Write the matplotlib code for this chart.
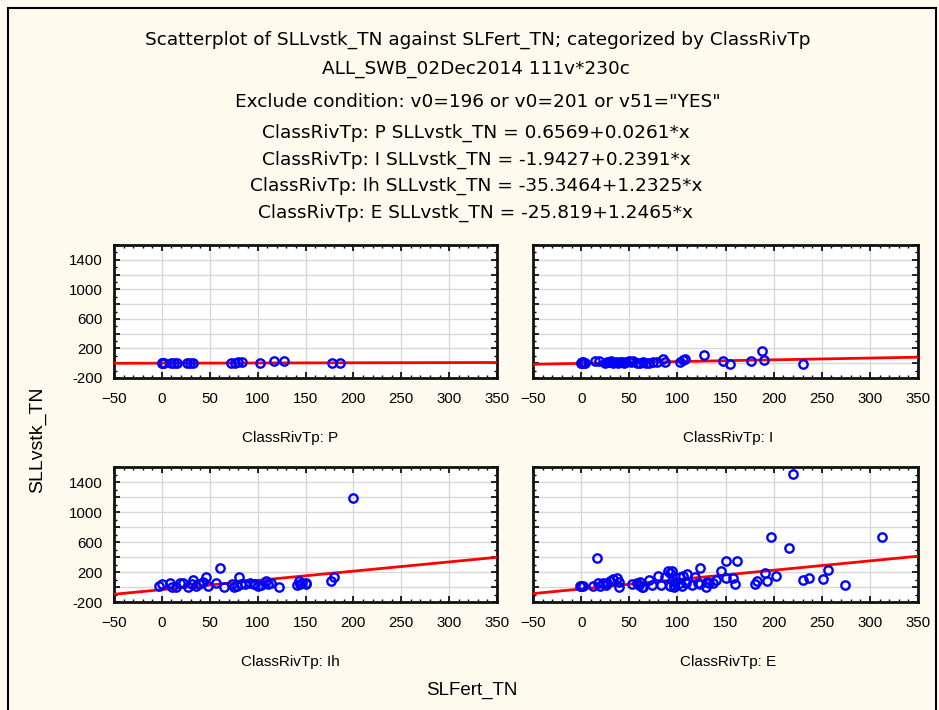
import matplotlib
matplotlib.use("Agg")
import matplotlib.pyplot as plt
import numpy as np
from matplotlib.ticker import MultipleLocator, FuncFormatter

# ---------------- data ----------------
categories = ["P", "I", "Ih", "E"]
intercepts = [0.6569, -1.9427, -35.3464, -25.819]
slopes = [0.0261, 0.2391, 1.2325, 1.2465]
eq_texts = ["0.6569+0.0261*x", "-1.9427+0.2391*x", "-35.3464+1.2325*x", "-25.819+1.2465*x"]

p_x = [0, 0, 1, 2, 10, 13, 16, 26, 29, 32, 72, 76, 80, 84, 103, 117, 128, 178, 186]
p_y = [0, 5, 0, 3, 0, 2, 0, 0, 3, 0, 0, 5, 15, 22, 0, 28, 27, 0, 0]

i_x = [0, 0, 1, 2, 3, 4, 14, 19, 25, 27, 29, 31, 33, 36, 38, 40, 42, 45, 47, 50, 52, 54,
       58, 61, 64, 67, 71, 75, 79, 85, 87, 103, 106, 108, 128, 147, 155, 176, 188, 190, 230]
i_y = [5, 0, 10, 15, 8, 5, 25, 25, 5, 20, 12, 25, 8, 20, 5, 22, 15, 5, 10, 28, 20, 25,
       5, 2, 10, 5, 5, 10, 20, 55, 22, 22, 40, 55, 108, 25, -8, 25, 160, 48, -5]

ih_x = [-3, 0, 8, 11, 15, 19, 22, 27, 31, 33, 36, 39, 43, 46, 48, 57, 61, 65, 73, 75, 78,
        81, 83, 87, 92, 96, 97, 100, 104, 109, 111, 114, 122, 141, 143, 144, 146, 150, 151,
        177, 180, 200]
ih_y = [13, 36, 58, 5, 5, 58, 58, 5, 36, 93, 13, 40, 62, 129, 13, 58, 249, 5, 36, 5, 10,
        129, 36, 36, 58, 36, 40, 20, 22, 82, 36, 58, 5, 30, 82, 40, 58, 58, 40,
        82, 129, 1183]

e_x = [0, 2, -1, 12, 16, 18, 20, 23, 27, 26, 30, 33, 37, 39, 39, 53, 58, 60, 61, 63, 64,
       70, 74, 80, 83, 87, 90, 94, 92, 92, 96, 98, 96, 103, 103, 106, 110, 105, 109, 115,
       118, 121, 124, 123, 130, 131, 133, 137, 140, 145, 150, 151, 158, 160, 162, 181, 183,
       193, 191, 202, 197, 216, 220, 230, 237, 251, 257, 274, 313]
e_y = [13, 13, 10, 13, 382, 58, 13, 49, 58, 27, 84, 102, 116, 71, 5, 40, 49, 22, 71, 5, 5,
       93, 27, 147, 27, 129, 218, 218, 13, 187, 27, 71, 0, 129, 58, 147, 169, 13, 58, 27,
       138, 58, 249, 40, 5, 62, 58, 49, 93, 218, 116, 351, 116, 40, 351, 40, 84,
       84, 191, 147, 671, 516, 1502, 93, 116, 111, 222, 31, 671]

xs = [p_x, i_x, ih_x, e_x]
ys = [p_y, i_y, ih_y, e_y]

title_lines = [
    "Scatterplot of SLLvstk_TN against SLFert_TN; categorized by ClassRivTp",
    "ALL_SWB_02Dec2014 111v*230c",
    'Exclude condition: v0=196 or v0=201 or v51="YES"',
]

FONT = ["Liberation Sans", "DejaVu Sans"]
TFONT = ["DejaVu Sans"]

W, H = 939, 710
fig = plt.figure(figsize=(W / 100, H / 100), dpi=100)
bg = "#fefaee"
fig.patch.set_facecolor(bg)

# border
fig.add_artist(plt.Rectangle((8 / W, -0.05), (936 - 8) / W, 1.05 - 8 / H,
                             transform=fig.transFigure, fill=False,
                             edgecolor="black", linewidth=1.5))

def fx(px):
    return px / W

def fy(py):
    return 1 - py / H

# title lines
tl_y = [40, 69, 102, 133, 160, 186, 213]
tl_x = [478, 476, 478, 476, 476, 476, 476]
all_lines = title_lines + ["ClassRivTp: %s SLLvstk_TN = %s" % (c, e) for c, e in zip(categories, eq_texts)]
for t, xx, yy in zip(all_lines, tl_x, tl_y):
    fig.text(fx(xx), fy(yy), t, ha="center", va="center", fontsize=13.3, family=TFONT)

# axes positions in pixels: (left, top, right, bottom)
boxes = [(114, 245, 497, 378), (533, 245, 918, 378),
         (114, 467, 497, 602), (533, 467, 918, 602)]
sub_y = [438, 438, 662, 662]
sub_x = [290, 728, 290, 728]

xline = np.array([-50, 350])
for k in range(4):
    l, t, r, b = boxes[k]
    ax = fig.add_axes([fx(l), fy(b), (r - l) / W, (b - t) / H])
    ax.set_facecolor("white")
    ax.set_xlim(-50, 350)
    ax.set_ylim(-200, 1600)
    ax.xaxis.set_major_locator(MultipleLocator(50))
    ax.xaxis.set_minor_locator(MultipleLocator(10))
    ax.yaxis.set_major_locator(MultipleLocator(200))
    ax.yaxis.set_minor_locator(MultipleLocator(100))
    ax.yaxis.set_major_formatter(FuncFormatter(
        lambda v, p: "%d" % v if int(round(v)) in (-200, 200, 600, 1000, 1400) else ""))
    ax.grid(True, which="major", color="#d8d8d8", linewidth=1.0)
    ax.set_axisbelow(True)
    ax.tick_params(which="both", direction="in", top=True, right=True, labelsize=10.8)
    ax.tick_params(axis="x", which="major", pad=10)
    ax.tick_params(axis="y", which="major", pad=8)
    ax.tick_params(which="major", length=4, width=1.2)
    ax.tick_params(which="minor", length=2.5, width=1.0)
    if k in (1, 3):
        ax.tick_params(labelleft=False)
    for s in ax.spines.values():
        s.set_linewidth(2.0)
        s.set_color("#111111")
    for lab in ax.get_xticklabels() + ax.get_yticklabels():
        lab.set_family(FONT)
    ax.plot(xline, intercepts[k] + slopes[k] * xline, color="#ff0000", linewidth=2.0, zorder=3)
    ax.plot(xs[k], ys[k], linestyle="none", marker="o", markersize=6,
            markerfacecolor="none", markeredgecolor="#0000ff", markeredgewidth=1.7, zorder=4)
    fig.text(fx(sub_x[k]), fy(sub_y[k]), "ClassRivTp: %s" % categories[k],
             ha="center", va="center", fontsize=11, family=FONT)

fig.text(fx(472), fy(690), "SLFert_TN", ha="center", va="center", fontsize=13.5, family=FONT)
fig.text(fx(38), fy(440), "SLLvstk_TN", ha="center", va="center", fontsize=14,
         rotation=90, family=FONT)

fig.savefig("out.png", dpi=100, facecolor=bg)
